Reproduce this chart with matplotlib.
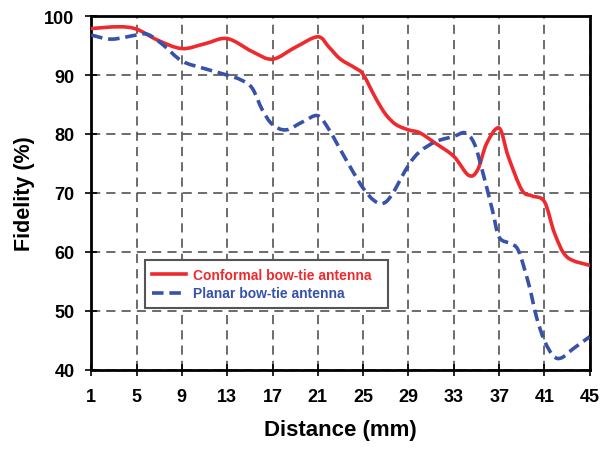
import matplotlib.pyplot as plt
import numpy as np
from matplotlib.path import Path
from matplotlib.patches import PathPatch
from matplotlib.lines import Line2D

plt.rcParams['font.family'] = ['Liberation Sans', 'DejaVu Sans']
plt.rcParams['font.weight'] = 'bold'

# conformal bow-tie antenna (red, solid)
x_conf = [1, 3.4, 5, 6.9, 9, 11, 13, 15.2, 17, 19, 21, 22, 23, 24.3, 25, 26.1, 27, 27.9,
          29, 30, 31.4, 33, 34.3, 35.1, 35.9, 37, 37.8, 39, 39.9, 41, 41.9, 43, 45]
y_conf = [97.9, 98.2, 97.8, 95.9, 94.5, 95.3, 96.2, 94.0, 92.7, 94.7, 96.5, 94.7, 92.7, 91.2,
          90.1, 86.1, 83.3, 81.6, 80.7, 80.2, 78.4, 76.2, 73.0, 73.9, 78.4, 81.0, 76.2, 70.5,
          69.5, 68.5, 63.1, 59.1, 57.7]

# planar bow-tie antenna (blue, dashed)
x_plan = [1, 2.8, 5, 6, 7.3, 9, 11, 13, 14.2, 15.2, 16.1, 17, 18.2, 19.7, 21, 22, 23, 24.1,
          25, 25.9, 26.7, 27.5, 29, 30, 31.4, 33, 34, 34.8, 35.5, 36.4, 37, 38, 38.7, 39.6,
          40.3, 41, 41.8, 42.5, 43.5, 45]
y_plan = [96.8, 96.1, 96.8, 96.9, 95.2, 92.4, 91.1, 90.0, 89.2, 87.8, 84.1, 81.6, 80.7, 82.1,
          83.1, 80.7, 77.3, 73.6, 70.8, 68.8, 68.2, 69.6, 74.7, 77.0, 78.7, 79.6, 80.2, 78.4,
          73.9, 67.1, 62.5, 61.4, 60.2, 54.6, 48.9, 44.9, 42.3, 42.0, 43.5, 45.6]

xticks = np.arange(1, 46, 4)
yticks = np.arange(40, 101, 10)

red = '#EE2A2E'
blue = '#3752A8'


def smooth_path(x, y):
    # Excel-like smoothed line: cubic Bezier segments through the points
    p = np.column_stack([x, y]).astype(float)
    ext = np.vstack([p[0], p, p[-1]])
    verts = [p[0]]
    codes = [Path.MOVETO]
    for i in range(len(p) - 1):
        p0, p1, p2, p3 = ext[i], ext[i + 1], ext[i + 2], ext[i + 3]
        verts += [p1 + (p2 - p0) / 6, p2 - (p3 - p1) / 6, p2]
        codes += [Path.CURVE4] * 3
    return Path(verts, codes)


fig = plt.figure(figsize=(6, 4.52), dpi=100)
ax = fig.add_axes([0.152, 0.18, 0.831, 0.782])

ax.add_patch(PathPatch(smooth_path(x_conf, y_conf), fill=False, edgecolor=red, lw=2.6,
                       capstyle='round', zorder=3))
ax.add_patch(PathPatch(smooth_path(x_plan, y_plan), fill=False, edgecolor=blue, lw=2.6,
                       ls=(0, (3.2, 1.6)), zorder=3))

ax.set_xlim(1, 45)
ax.set_ylim(40, 100)
ax.set_xticks(xticks)
ax.set_yticks(yticks)
ax.grid(True, color='#444444', ls=(0, (6, 4)), lw=1.1)
for s in ax.spines.values():
    s.set_linewidth(2)
ax.tick_params(direction='inout', length=8, width=1.2, labelsize=13)
ax.tick_params(axis='x', pad=9)
ax.tick_params(axis='y', pad=8)
for lbl in ax.get_xticklabels() + ax.get_yticklabels():
    lbl.set_fontweight('bold')

ax.set_xlabel('Distance (mm)', fontsize=16, fontweight='bold', labelpad=10)
ax.set_ylabel('Fidelity (%)', fontsize=15.5, fontweight='bold', labelpad=7)

handles = [Line2D([], [], color=red, lw=2.6),
           Line2D([], [], color=blue, lw=2.6, ls=(0, (3.2, 1.6)))]
labels = ['Conformal bow-tie antenna', 'Planar bow-tie antenna']
leg = ax.legend(handles, labels, loc='lower left', bbox_to_anchor=(0.107, 0.174, 0.488, 0.156),
                mode='expand', borderaxespad=0, fancybox=False, framealpha=1,
                edgecolor='#555555', fontsize=10, handlelength=2.45, handletextpad=0.5,
                borderpad=0.55, labelspacing=0.35)
leg.get_frame().set_linewidth(1.5)
for t, c in zip(leg.get_texts(), [red, blue]):
    t.set_color(c)
    t.set_fontweight('bold')

plt.savefig('out.png', dpi=100)
